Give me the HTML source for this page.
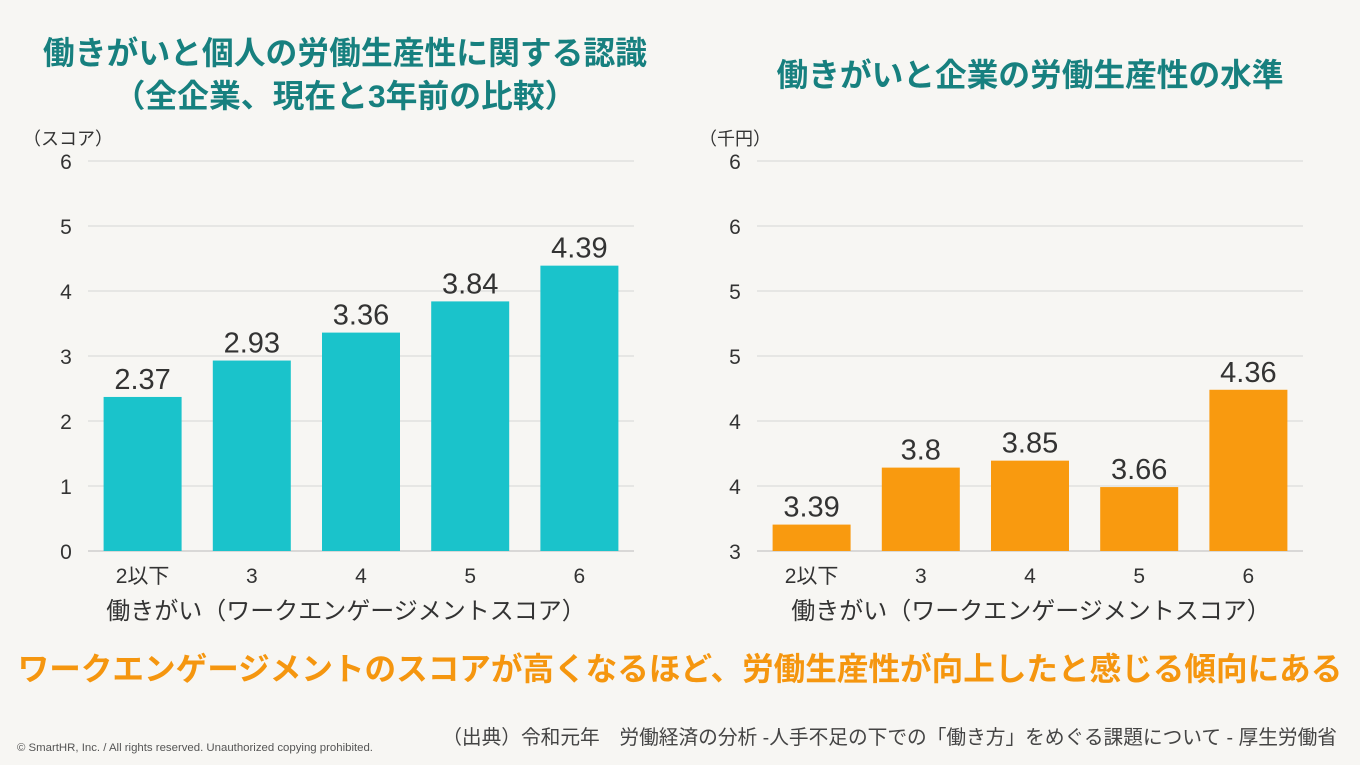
<!DOCTYPE html>
<html><head><meta charset="utf-8"><style>
body{margin:0;width:1360px;height:765px;background:#f7f6f3;overflow:hidden;font-family:"Liberation Sans","Noto Sans CJK JP",sans-serif;}
svg{position:absolute;left:0;top:0}
</style></head><body>
<svg width="1360" height="765" xmlns="http://www.w3.org/2000/svg">
<rect width="1360" height="765" fill="#f7f6f3"/>
<g font-family="Liberation Sans, Noto Sans CJK JP, sans-serif">
<text x="345" y="64" text-anchor="middle" font-size="31.8" font-weight="bold" fill="#17807f">働きがいと個人の労働生産性に関する認識</text>
<text x="345" y="107" text-anchor="middle" font-size="31.8" font-weight="bold" fill="#17807f">（全企業、現在と3年前の比較）</text>
<text x="1030" y="86" text-anchor="middle" font-size="31.7" font-weight="bold" fill="#17807f">働きがいと企業の労働生産性の水準</text>
<text x="68" y="145" text-anchor="middle" font-size="18" fill="#333">（スコア）</text>
<text x="735" y="145" text-anchor="middle" font-size="18" fill="#333">（千円）</text>
<text x="680" y="680" text-anchor="middle" font-size="31.6" font-weight="bold" fill="#f5960f">ワークエンゲージメントのスコアが高くなるほど、労働生産性が向上したと感じる傾向にある</text>
<text x="1337" y="744" text-anchor="end" font-size="19.7" fill="#444">（出典）令和元年　労働経済の分析 -人手不足の下での「働き方」をめぐる課題について - 厚生労働省</text>
<text x="17" y="751" font-size="11.4" fill="#555">© SmartHR, Inc. / All rights reserved. Unauthorized copying prohibited.</text>
</g>
<g id="left"></g><g id="right"></g>
</svg>
<script>
const categories=["2以下","3","4","5","6"];
const leftValues=[2.37,2.93,3.36,3.84,4.39];
const leftTicks=["0","1","2","3","4","5","6"];
const rightValues=[3.39,3.8,3.85,3.66,4.36];
const rightTicks=["3","4","4","5","5","6","6"];
const NS="http://www.w3.org/2000/svg";
function mk(p,tag,a,txt){const e=document.createElementNS(NS,tag);for(const k in a)e.setAttribute(k,a[k]);if(txt!=null)e.textContent=txt;p.appendChild(e);return e;}
function chart(g,x0,x1,vals,ticks,yMin,yMax,color,prefix,titleX){
 const base=551,top=161;
 const y=v=>base-(v-yMin)/(yMax-yMin)*(base-top);
 const n=ticks.length;
 for(let i=0;i<n;i++){const yy=base-i*(base-top)/(n-1);
  const l=mk(g,'line',{x1:x0,x2:x1,y1:yy,y2:yy,stroke:i==0?'#bbb':'#d6d6d6','stroke-width':1});
  
  const t=mk(g,'text',{x:x0-22,y:yy+8,'text-anchor':'middle','font-size':21,fill:'#333','font-family':'Liberation Sans, sans-serif'},ticks[i]);
  }
 const step=(x1-x0)/categories.length,bw=78;
 vals.forEach((v,i)=>{const cx=x0+step*(i+0.5);
  const r=mk(g,'rect',{x:cx-bw/2,y:y(v),width:bw,height:base-y(v),fill:color});
  
  const t=mk(g,'text',{x:cx,y:y(v)-8,'text-anchor':'middle','font-size':29,fill:'#333','font-family':'Liberation Sans, sans-serif'},String(v));
  
  const c=mk(g,'text',{x:cx,y:583,'text-anchor':'middle','font-size':21,fill:'#333','font-family':'Liberation Sans, Noto Sans CJK JP, sans-serif'},categories[i]);
  });
 const xt=mk(g,'text',{x:titleX,y:619,'text-anchor':'middle','font-size':24,fill:'#333','font-family':'Liberation Sans, Noto Sans CJK JP, sans-serif'},'働きがい（ワークエンゲージメントスコア）');
 
}
chart(document.getElementById('left'),88,634,leftValues,leftTicks,0,6,'#1ac3cb','left',346);
chart(document.getElementById('right'),757,1303,rightValues,rightTicks,3.2,6.006,'#f99a0f','right',1031);
</script>
</body></html>
